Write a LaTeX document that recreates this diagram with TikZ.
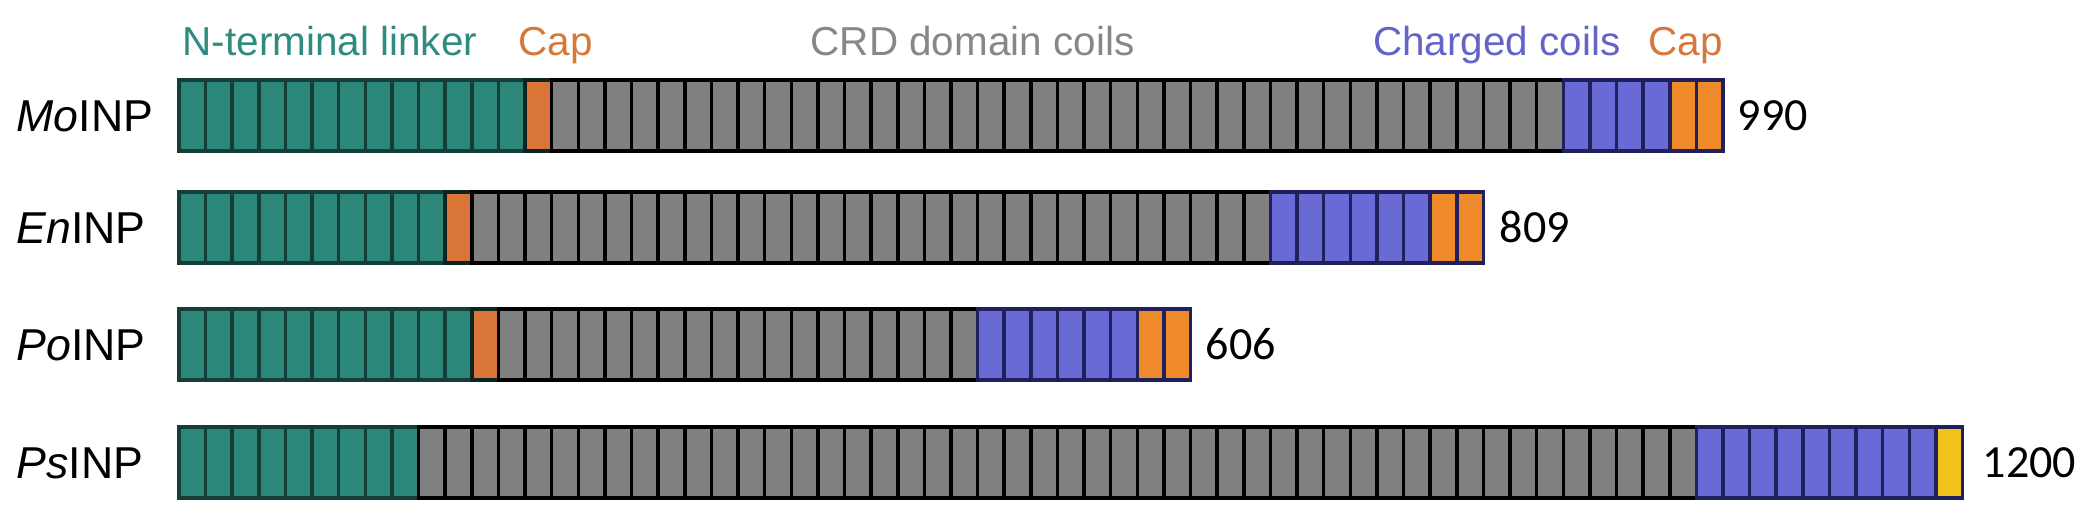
\documentclass[tikz,border=0pt]{standalone}
\usepackage{fontspec}
\setmainfont{Liberation Sans}
\newfontfamily\numfont{Carlito}
\usepackage{tikz}

\definecolor{linkerfill}{RGB}{42,135,122}
\definecolor{linkerline}{RGB}{22,62,56}
\definecolor{capfill}{RGB}{217,117,55}
\definecolor{crdfill}{RGB}{128,128,128}
\definecolor{chargedfill}{RGB}{106,106,214}
\definecolor{chargedline}{RGB}{32,32,92}
\definecolor{endcapfill}{RGB}{238,138,42}
\definecolor{yellowfill}{RGB}{240,196,26}
\definecolor{linkertext}{RGB}{46,139,126}
\definecolor{captext}{RGB}{214,120,60}
\definecolor{crdtext}{RGB}{135,135,135}
\definecolor{chargedtext}{RGB}{100,100,200}

\begin{document}
\begin{tikzpicture}[x=0.01cm, y=-0.01cm,
    linker/.style={fill=linkerfill, draw=linkerline, line width=1pt},
    capcell/.style={fill=capfill, draw=linkerline!60!black, line width=1pt},
    crd/.style={fill=crdfill, draw=black, line width=1pt},
    charged/.style={fill=chargedfill, draw=chargedline, line width=1pt},
    endcap/.style={fill=endcapfill, draw=chargedline, line width=1pt},
    tip/.style={fill=yellowfill, draw=chargedline, line width=1pt},
    header/.style={inner sep=0pt, anchor=base west, font=\fontsize{11.5}{13}\selectfont},
    rowname/.style={inner sep=0pt, anchor=base west, font=\fontsize{12.7}{14}\selectfont},
    length/.style={inner sep=0pt, anchor=base west, font=\numfont\fontsize{13.1}{15}\selectfont}]
    \useasboundingbox (0, 0) rectangle (2100, 516);

    % headers
    \node[header, text=linkertext] (nterm) at (182, 56) {N-terminal linker};
    \node[header, text=captext] (capA) at (518, 56) {Cap};
    \node[header, text=crdtext] (crdlab) at (810, 56) {CRD domain coils};
    \node[header, text=chargedtext, anchor=base east] (chargedlab) at (1621, 56) {Charged coils};
    \node[header, text=captext] (capB) at (1648, 56) {Cap};

    % MoINP
    \node[rowname] (mo) at (16, 131.5) {\itshape Mo\upshape INP};
    \foreach \i in {0,...,12} \draw[linker] (179+\i*26.62, 80) rectangle ++(26.62, 71);
    \draw[capcell] (179+13*26.62, 80) rectangle ++(26.62, 71);
    \foreach \i in {14,...,51} \draw[crd] (179+\i*26.62, 80) rectangle ++(26.62, 71);
    \foreach \i in {52,...,55} \draw[charged] (179+\i*26.62, 80) rectangle ++(26.62, 71);
    \foreach \i in {56,57} \draw[endcap] (179+\i*26.62, 80) rectangle ++(26.62, 71);
    \node[length] (molen) at (1737, 130.5) {990};

    % EnINP
    \node[rowname] (en) at (16, 243.5) {\itshape En\upshape INP};
    \foreach \i in {0,...,9} \draw[linker] (179+\i*26.62, 192) rectangle ++(26.62, 71);
    \draw[capcell] (179+10*26.62, 192) rectangle ++(26.62, 71);
    \foreach \i in {11,...,40} \draw[crd] (179+\i*26.62, 192) rectangle ++(26.62, 71);
    \foreach \i in {41,...,46} \draw[charged] (179+\i*26.62, 192) rectangle ++(26.62, 71);
    \foreach \i in {47,48} \draw[endcap] (179+\i*26.62, 192) rectangle ++(26.62, 71);
    \node[length] (enlen) at (1499, 242.5) {809};

    % PoINP
    \node[rowname] (po) at (16, 360.5) {\itshape Po\upshape INP};
    \foreach \i in {0,...,10} \draw[linker] (179+\i*26.62, 309) rectangle ++(26.62, 71);
    \draw[capcell] (179+11*26.62, 309) rectangle ++(26.62, 71);
    \foreach \i in {12,...,29} \draw[crd] (179+\i*26.62, 309) rectangle ++(26.62, 71);
    \foreach \i in {30,...,35} \draw[charged] (179+\i*26.62, 309) rectangle ++(26.62, 71);
    \foreach \i in {36,37} \draw[endcap] (179+\i*26.62, 309) rectangle ++(26.62, 71);
    \node[length] (polen) at (1205, 359.5) {606};

    % PsINP
    \node[rowname] (ps) at (16, 478.5) {\itshape Ps\upshape INP};
    \foreach \i in {0,...,8} \draw[linker] (179+\i*26.62, 427) rectangle ++(26.62, 71);
    \foreach \i in {9,...,56} \draw[crd] (179+\i*26.62, 427) rectangle ++(26.62, 71);
    \foreach \i in {57,...,65} \draw[charged] (179+\i*26.62, 427) rectangle ++(26.62, 71);
    \draw[tip] (179+66*26.62, 427) rectangle ++(26.62, 71);
    \node[length] (pslen) at (1982, 477.5) {1200};
\end{tikzpicture}
\end{document}
